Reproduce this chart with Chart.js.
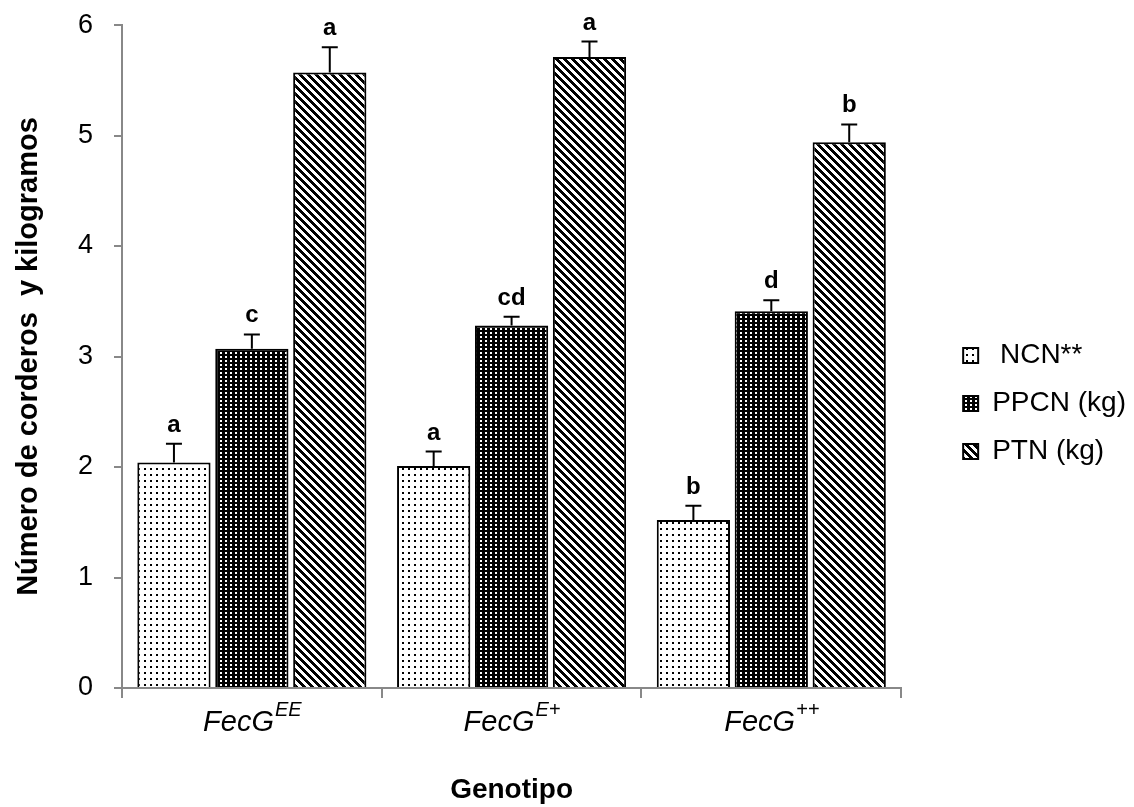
<!DOCTYPE html>
<html>
<head>
<meta charset="utf-8">
<script src="https://cdn.jsdelivr.net/npm/chart.js@4/dist/chart.umd.min.js"></script>
<style>
  body { margin: 0; background: #fff; }
  #wrap { width: 1134px; height: 807px; }
</style>
</head>
<body>
<div id="wrap"><canvas id="genoChart"></canvas></div>
<script>
// data
const genotypes = ['EE', 'E+', '++'];          // superscripts after "FecG"
const seriesNames = [' NCN**', 'PPCN (kg)', 'PTN (kg)'];
const ncn = [2.04, 2.01, 1.52];
const ppcn = [3.07, 3.28, 3.41];
const ptn = [5.57, 5.71, 4.94];
const ncnErr = [0.17, 0.13, 0.13];
const ppcnErr = [0.13, 0.08, 0.10];
const ptnErr = [0.23, 0.14, 0.16];
const ncnLetters = ['a', 'a', 'b'];
const ppcnLetters = ['c', 'cd', 'd'];
const ptnLetters = ['a', 'a', 'b'];
const yTicks = [0, 1, 2, 3, 4, 5, 6];

const FONT = 'Arial, "Liberation Sans", sans-serif';
Chart.defaults.font.family = FONT;
Chart.defaults.color = '#000';

const ctx = document.getElementById('genoChart').getContext('2d');

// small pixel tiles for the black/white fills
const makePattern = (w, h, isBlack) => {
    const c = document.createElement('canvas');
    c.width = w; c.height = h;
    const cx = c.getContext('2d');
    const img = cx.createImageData(w, h);
    for (let y = 0; y < h; y++) {
        for (let x = 0; x < w; x++) {
            const v = isBlack(x, y) ? 0 : 255;
            const i = (y * w + x) * 4;
            img.data[i] = v; img.data[i + 1] = v; img.data[i + 2] = v; img.data[i + 3] = 255;
        }
    }
    cx.putImageData(img, 0, 0);
    return ctx.createPattern(c, 'repeat');
};

const dotted = makePattern(6, 6, (x, y) => x < 2 && y < 2);
const darkGrid = makePattern(5, 4, (x, y) => !(x < 2 && y < 2));
const stripes = makePattern(8, 8, (x, y) => ((x - y + 16) % 8) < 4);

const errors = [ncnErr, ppcnErr, ptnErr];
const letters = [ncnLetters, ppcnLetters, ptnLetters];

// error bars + significance letters
const errorBarPlugin = {
    id: 'errorBars',
    afterDatasetsDraw(chart) {
        const c = chart.ctx;
        const yScale = chart.scales.y;
        c.save();
        chart.data.datasets.forEach((ds, i) => {
            const meta = chart.getDatasetMeta(i);
            meta.data.forEach((bar, j) => {
                const top = yScale.getPixelForValue(ds.data[j] + errors[i][j]);
                c.strokeStyle = '#000';
                c.lineWidth = 2;
                c.beginPath();
                c.moveTo(bar.x, bar.y);
                c.lineTo(bar.x, top);
                c.moveTo(bar.x - 8, top);
                c.lineTo(bar.x + 8, top);
                c.stroke();
                c.fillStyle = '#000';
                c.font = 'bold 24px ' + FONT;
                c.textAlign = 'center';
                c.textBaseline = 'alphabetic';
                c.fillText(letters[i][j], bar.x, top - 12);
            });
        });
        c.restore();
    }
};

// italic category labels with superscripts
const genoLabelPlugin = {
    id: 'genoLabels',
    afterDraw(chart) {
        const c = chart.ctx;
        const xScale = chart.scales.x;
        c.save();
        c.fillStyle = '#000';
        c.textAlign = 'left';
        c.textBaseline = 'alphabetic';
        genotypes.forEach((sup, i) => {
            const x = xScale.getPixelForValue(i);
            c.font = 'italic 29px ' + FONT;
            const w1 = c.measureText('FecG').width;
            c.font = 'italic 20px ' + FONT;
            const w2 = c.measureText(sup).width;
            const start = x - (w1 + w2) / 2;
            c.font = 'italic 29px ' + FONT;
            c.fillText('FecG', start, 731);
            c.font = 'italic 20px ' + FONT;
            c.fillText(sup, start + w1 + 1, 716);
        });
        c.restore();
    }
};

const mkSet = (label, data, fill) => ({
    label: label,
    data: data,
    backgroundColor: fill,
    borderColor: '#000',
    borderWidth: 2,
    categoryPercentage: 0.9,
    barPercentage: 0.94
});

new Chart(ctx, {
    type: 'bar',
    data: {
        labels: genotypes.map(g => 'FecG' + g),
        datasets: [
            mkSet(seriesNames[0], ncn, dotted),
            mkSet(seriesNames[1], ppcn, darkGrid),
            mkSet(seriesNames[2], ptn, stripes)
        ]
    },
    options: {
        responsive: true,
        maintainAspectRatio: false,
        animation: false,
        layout: { padding: { top: 0, left: 9, right: 4, bottom: 0 } },
        scales: {
            x: {
                grid: { drawOnChartArea: false, color: '#888', lineWidth: 2, tickLength: 10, offset: true },
                border: { color: '#888', width: 2 },
                ticks: { display: false },
                title: {
                    display: true,
                    text: 'Genotipo',
                    font: { size: 28, weight: 'bold' },
                    padding: { top: 0, bottom: 0 }
                },
                afterFit: s => { s.height = 119; }
            },
            y: {
                min: 0,
                max: 6,
                afterBuildTicks: s => { s.ticks = yTicks.map(v => ({ value: v })); },
                grid: { drawOnChartArea: false, color: '#888', lineWidth: 2, tickLength: 8 },
                border: { color: '#888', width: 2 },
                ticks: { font: { size: 27, lineHeight: 0.3 }, padding: 21 },
                title: {
                    display: true,
                    text: 'Número de corderos  y kilogramos',
                    font: { size: 29, weight: 'bold' },
                    padding: { top: 3, bottom: 3 }
                },
                afterFit: s => { s.width = 113; }
            },
            gap: {
                type: 'linear',
                position: 'right',
                display: true,
                grid: { display: false },
                ticks: { display: false },
                border: { display: false },
                afterFit: s => { s.width = 42; }
            }
        },
        plugins: {
            legend: {
                position: 'right',
                align: 'center',
                labels: {
                    boxWidth: 15,
                    boxHeight: 15,
                    padding: 20,
                    font: { size: 28 },
                    color: '#000'
                }
            },
            tooltip: { enabled: false }
        }
    },
    plugins: [errorBarPlugin, genoLabelPlugin]
});
</script>
</body>
</html>
